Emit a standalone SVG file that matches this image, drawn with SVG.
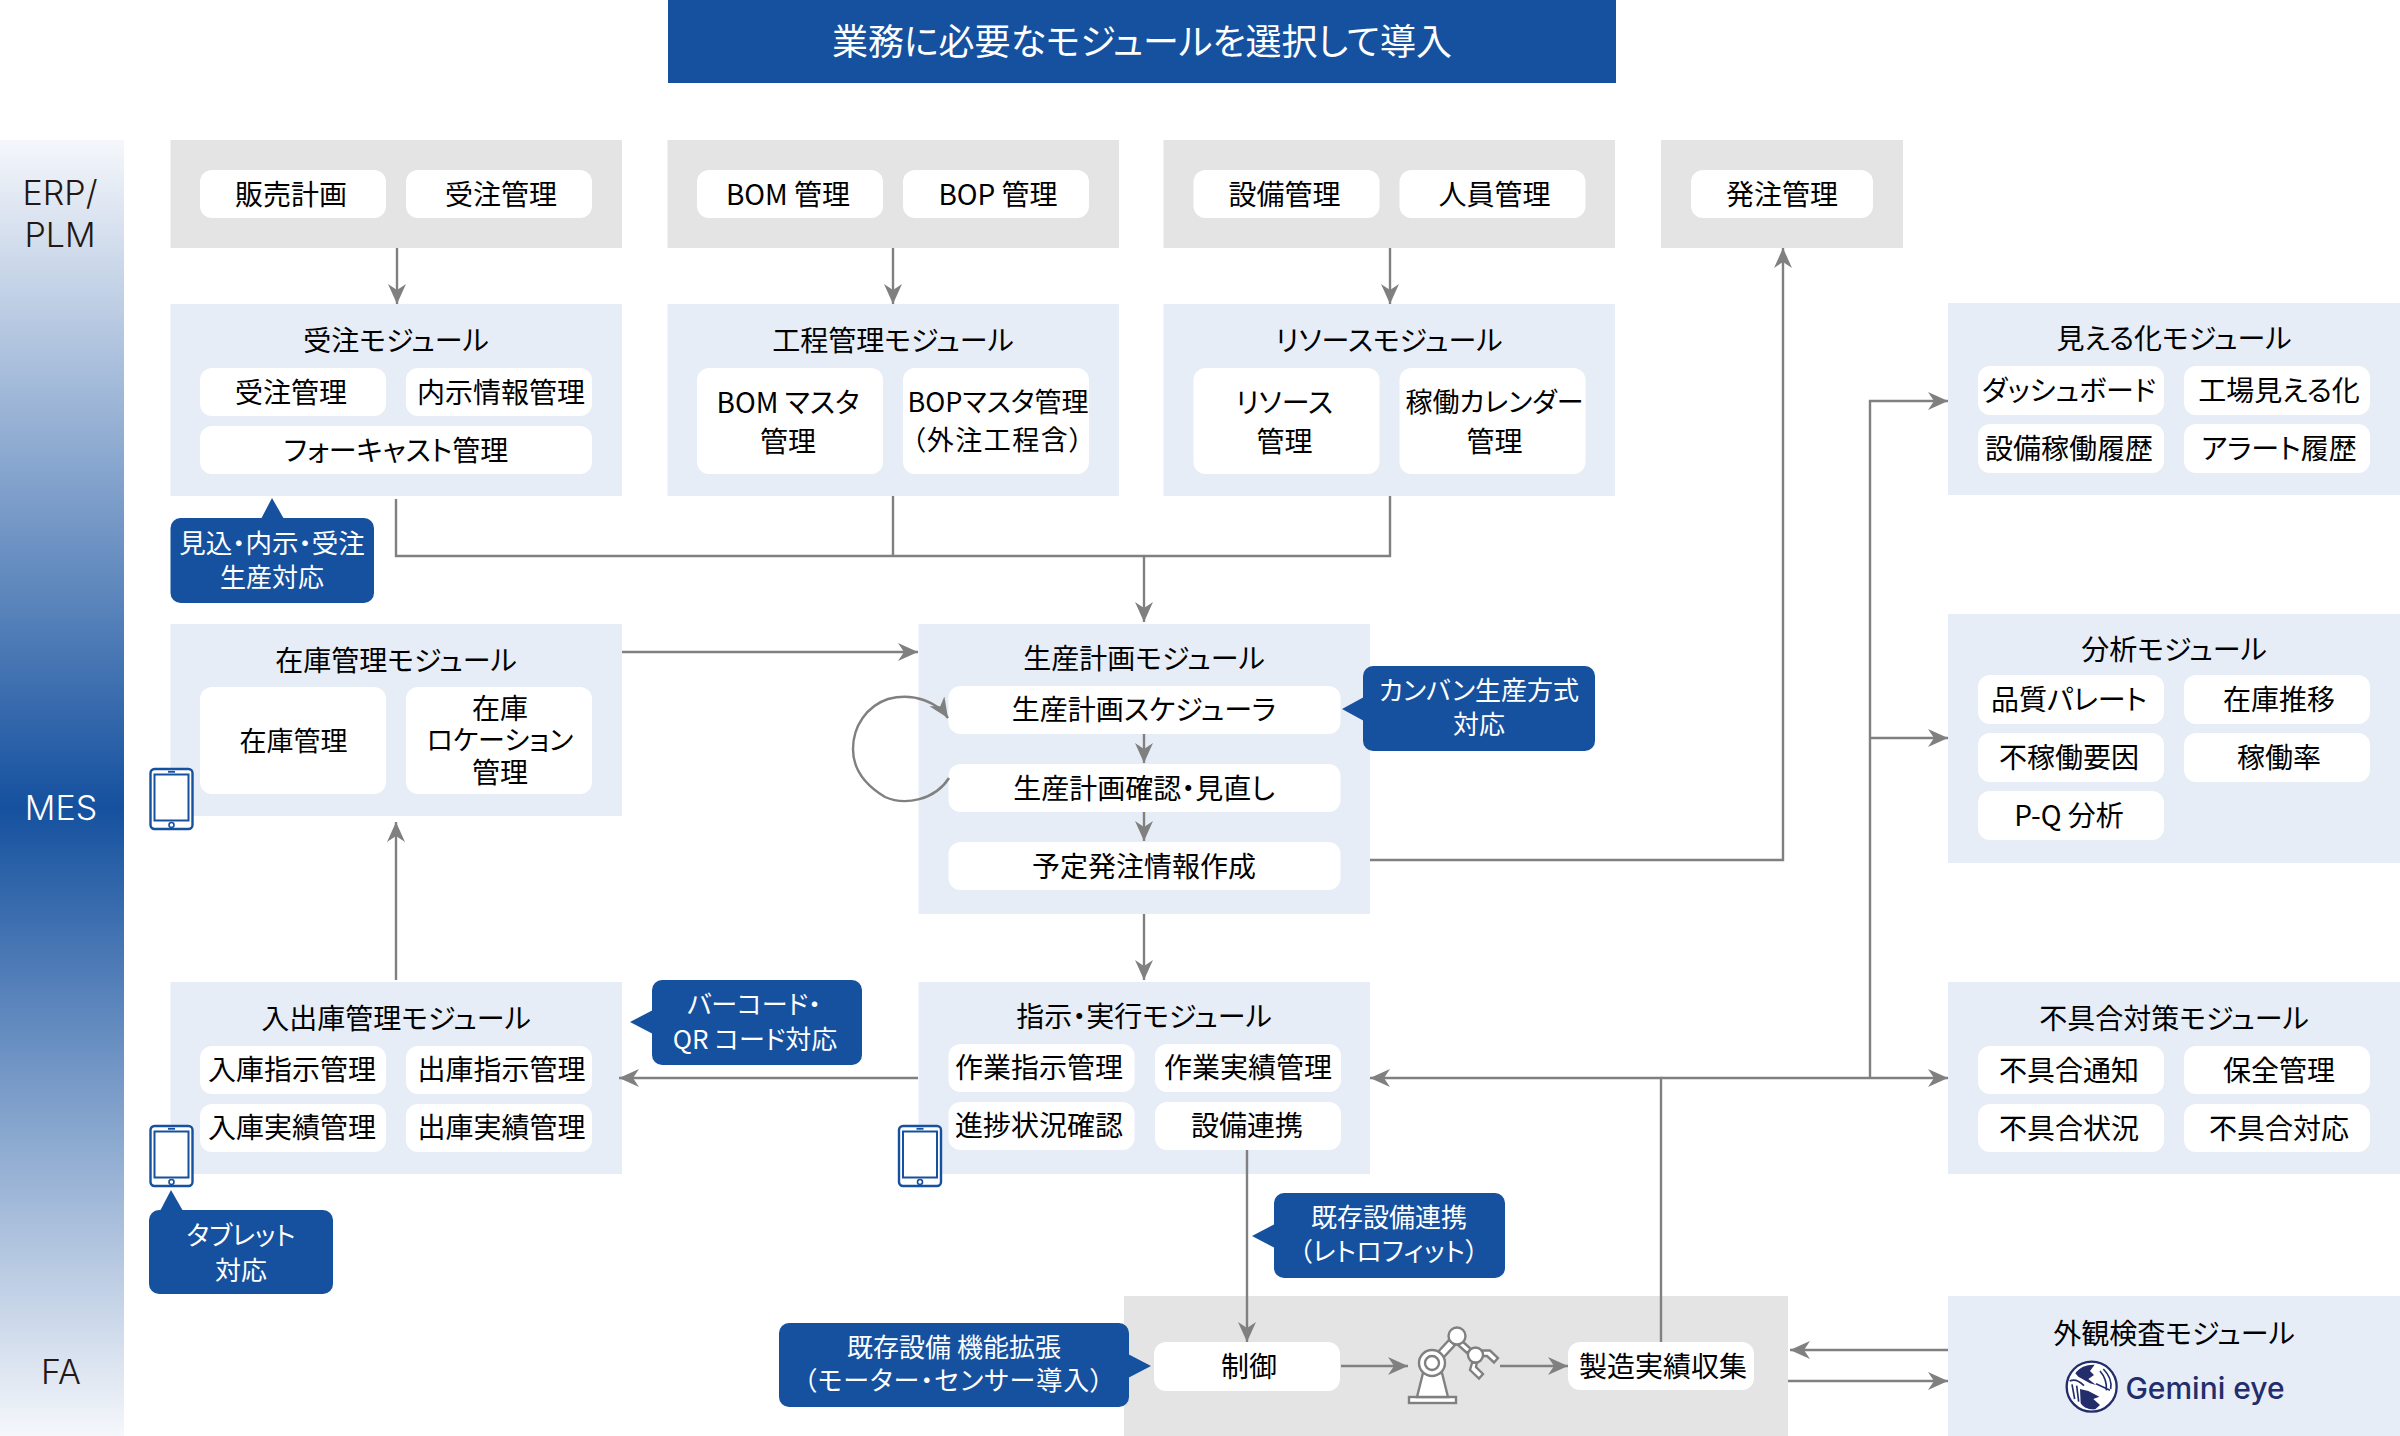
<svg xmlns="http://www.w3.org/2000/svg" width="2400" height="1436" viewBox="0 0 2400 1436">
<style>
text{font-family:"Noto Sans CJK JP","Noto Sans",sans-serif;text-anchor:middle;dominant-baseline:central;font-feature-settings:"palt";font-size:28px;fill:#000;transform:translateY(-.4px)}
.g{fill:#e4e4e4}.m{fill:#e7edf6}.p{fill:#fff}.c{fill:#15519f}
.s{font-size:27px}
.w{fill:#fff;font-size:26px}
.l{fill:#231815;font-size:34px;font-weight:300;font-family:Inter,"Noto Sans",sans-serif}
.cn{fill:none;stroke:#808080;stroke-width:2.4}
.rb{fill:#fff;stroke:#808080;stroke-width:2.4}
.lg{fill:none;stroke:#232d6b;stroke-width:5}
</style>
<defs>
<linearGradient id="band" x1="0" y1="0" x2="0" y2="1"><stop offset="0" stop-color="#f5f7fb"/><stop offset="0.515" stop-color="#15519f"/><stop offset="1" stop-color="#f5f7fb"/></linearGradient>
<marker id="a" markerUnits="userSpaceOnUse" markerWidth="22" markerHeight="20" refX="20" refY="9" orient="auto"><path d="M20 9 0 0 6 9 0 18z" fill="#808080"/></marker>
<g id="tablet"><rect x="1" y="1" width="42" height="60" rx="4" fill="#fff" stroke="#15519f" stroke-width="2.400"/><rect x="5" y="6.500" width="34" height="46" fill="none" stroke="#15519f" stroke-width="2"/><path d="M18.500 3.800H25.500" stroke="#15519f" stroke-width="1.800"/><circle cx="22" cy="57" r="2.500" fill="none" stroke="#15519f" stroke-width="1.600"/></g>
</defs>
<g id="layers"><rect x="0" y="140" width="124" height="1296" fill="url(#band)"/><text class="l" x="60" y="193">ERP/</text><text class="l" x="60" y="235">PLM</text><text class="l" x="61" y="808" style="fill:#fff">MES</text><text class="l" x="61" y="1372">FA</text></g>
<g id="title"><rect x="668" y="0" width="948" height="83" fill="#15519f"/><text x="1142" y="39" style="fill:#fff;font-size:36px">業務に必要なモジュールを選択して導入</text></g>

<g id="erp1"><rect class="g" x="170.500" y="140" width="451.500" height="108"/><rect class="p" x="200" y="170" width="186" height="48" rx="12"/><rect class="p" x="406" y="170" width="186" height="48" rx="12"/><text x="291" y="193">販売計画</text><text x="501" y="193">受注管理</text></g>
<g id="erp2"><rect class="g" x="667.500" y="140" width="451.500" height="108"/><rect class="p" x="697" y="170" width="186" height="48" rx="12"/><rect class="p" x="903" y="170" width="186" height="48" rx="12"/><text x="788" y="193">BOM 管理</text><text x="998" y="193">BOP 管理</text></g>
<g id="erp3"><rect class="g" x="1163.500" y="140" width="451.500" height="108"/><rect class="p" x="1193.500" y="170" width="186" height="48" rx="12"/><rect class="p" x="1399.500" y="170" width="186" height="48" rx="12"/><text x="1284.500" y="193">設備管理</text><text x="1494.500" y="193">人員管理</text></g>
<g id="erp4"><rect class="g" x="1661" y="140" width="242" height="108"/><rect class="p" x="1691" y="170" width="182" height="48" rx="12"/><text x="1782" y="193">発注管理</text></g>

<g id="juchu"><rect class="m" x="170.500" y="304" width="451.500" height="192"/><text x="396" y="339">受注モジュール</text><rect class="p" x="200" y="368" width="186" height="48" rx="12"/><rect class="p" x="406" y="368" width="186" height="48" rx="12"/><rect class="p" x="200" y="426" width="392" height="48" rx="12"/><text x="291" y="391">受注管理</text><text x="501" y="391">内示情報管理</text><text x="396" y="449">フォーキャスト管理</text></g>
<g id="kotei"><rect class="m" x="667.500" y="304" width="451.500" height="192"/><text x="893" y="339">工程管理モジュール</text><rect class="p" x="697" y="368" width="186" height="106" rx="12"/><rect class="p" x="903" y="368" width="186" height="106" rx="12"/><text x="788" y="401">BOM マスタ</text><text x="788" y="440">管理</text><text class="s" x="998" y="401">BOPマスタ管理</text><text class="s" x="998" y="439" style="letter-spacing:1.500px">（外注工程含）</text></g>
<g id="resource"><rect class="m" x="1163.500" y="304" width="451.500" height="192"/><text x="1389" y="339">リソースモジュール</text><rect class="p" x="1193.500" y="368" width="186" height="106" rx="12"/><rect class="p" x="1399.500" y="368" width="186" height="106" rx="12"/><text x="1284.500" y="401">リソース</text><text x="1284.500" y="440">管理</text><text class="s" x="1494.500" y="401">稼働カレンダー</text><text x="1494.500" y="440">管理</text></g>

<g id="zaiko"><rect class="m" x="170.500" y="624" width="451.500" height="192"/><text x="396" y="659">在庫管理モジュール</text><rect class="p" x="200" y="687" width="186" height="107" rx="12"/><rect class="p" x="406" y="687" width="186" height="107" rx="12"/><text class="s" x="293.500" y="740">在庫管理</text><text x="500" y="707">在庫</text><text class="s" x="500" y="739">ロケーション</text><text x="500" y="771">管理</text></g>
<g id="seisan"><rect class="m" x="918.500" y="624" width="451.500" height="290"/><text x="1144" y="657">生産計画モジュール</text><rect class="p" x="948.500" y="686" width="392" height="48" rx="12"/><rect class="p" x="948.500" y="764" width="392" height="48" rx="12"/><rect class="p" x="948.500" y="842" width="392" height="48" rx="12"/><text x="1144" y="708">生産計画スケジューラ</text><text x="1144" y="787">生産計画確認・見直し</text><text x="1144" y="865">予定発注情報作成</text></g>
<g id="nyushuko"><rect class="m" x="170.500" y="982" width="451.500" height="192"/><text x="396" y="1017">入出庫管理モジュール</text><rect class="p" x="200" y="1046" width="186" height="48" rx="12"/><rect class="p" x="406" y="1046" width="186" height="48" rx="12"/><rect class="p" x="200" y="1104" width="186" height="48" rx="12"/><rect class="p" x="406" y="1104" width="186" height="48" rx="12"/><text x="292" y="1068">入庫指示管理</text><text x="501.500" y="1068">出庫指示管理</text><text x="292" y="1126">入庫実績管理</text><text x="501.500" y="1126">出庫実績管理</text></g>
<g id="shiji"><rect class="m" x="918.500" y="982" width="451.500" height="192"/><text x="1144" y="1015">指示・実行モジュール</text><rect class="p" x="948.500" y="1044" width="186" height="48" rx="12"/><rect class="p" x="1155" y="1044" width="186" height="48" rx="12"/><rect class="p" x="948.500" y="1102" width="186" height="48" rx="12"/><rect class="p" x="1155" y="1102" width="186" height="48" rx="12"/><text x="1039" y="1066">作業指示管理</text><text x="1248" y="1066">作業実績管理</text><text x="1039" y="1124">進捗状況確認</text><text x="1247" y="1124">設備連携</text></g>

<g id="mieruka"><rect class="m" x="1948" y="303" width="452" height="192"/><text x="2174" y="337">見える化モジュール</text><rect class="p" x="1978" y="366" width="186" height="49" rx="12"/><rect class="p" x="2184" y="366" width="186" height="49" rx="12"/><rect class="p" x="1978" y="424" width="186" height="49" rx="12"/><rect class="p" x="2184" y="424" width="186" height="49" rx="12"/><text x="2069" y="389">ダッシュボード</text><text x="2279" y="389">工場見える化</text><text x="2069" y="447">設備稼働履歴</text><text x="2279" y="447">アラート履歴</text></g>
<g id="bunseki"><rect class="m" x="1948" y="614" width="452" height="249"/><text x="2174" y="648">分析モジュール</text><rect class="p" x="1978" y="675" width="186" height="49" rx="12"/><rect class="p" x="2184" y="675" width="186" height="49" rx="12"/><rect class="p" x="1978" y="733" width="186" height="49" rx="12"/><rect class="p" x="2184" y="733" width="186" height="49" rx="12"/><rect class="p" x="1978" y="791" width="186" height="49" rx="12"/><text x="2069" y="698">品質パレート</text><text x="2279" y="698">在庫推移</text><text x="2069" y="756">不稼働要因</text><text x="2279" y="756">稼働率</text><text x="2069" y="814">P-Q 分析</text></g>
<g id="fuguai"><rect class="m" x="1948" y="982" width="452" height="192"/><text x="2174" y="1017">不具合対策モジュール</text><rect class="p" x="1978" y="1046" width="186" height="48" rx="12"/><rect class="p" x="2184" y="1046" width="186" height="48" rx="12"/><rect class="p" x="1978" y="1104" width="186" height="48" rx="12"/><rect class="p" x="2184" y="1104" width="186" height="48" rx="12"/><text x="2069" y="1069">不具合通知</text><text x="2279" y="1069">保全管理</text><text x="2069" y="1127">不具合状況</text><text x="2279" y="1127">不具合対応</text></g>
<g id="gaikan"><rect class="m" x="1948" y="1296" width="452" height="140"/><text x="2174" y="1332">外観検査モジュール</text>
<g transform="translate(2060 1355) scale(.3333)"><circle cx="95" cy="95" r="75" fill="#fff" stroke="#232d6b" stroke-width="7"/><path d="M46 55C60 36 80 28 104 29L90 48 102 60 85 72 108 90 90 85 55 65z" fill="#232d6b"/><path d="M60 102 85 108 118 125 100 132 120 150 106 163C85 165 70 157 62 145z" fill="#232d6b"/><path class="lg" d="M29 78C45 70 60 80 72 92M36 88 44 132M50 92 56 140M130 42C146 58 156 80 152 102M120 48C134 64 141 82 139 106M108 86 150 106"/></g>
<text x="2205" y="1388" style="fill:#232d6b;font-size:30px;font-family:Inter,sans-serif;font-weight:500">Gemini eye</text></g>

<g id="fa"><rect class="g" x="1124" y="1296" width="664" height="140"/><rect class="p" x="1154" y="1342" width="186" height="49" rx="12"/><rect class="p" x="1568" y="1342" width="186" height="48" rx="12"/><text x="1249" y="1365">制御</text><text x="1663" y="1365">製造実績収集</text></g>
<g id="robot"><rect class="rb" x="1409" y="1397" width="47" height="6"/><path class="rb" d="M1417 1397 1423 1373H1442L1448 1397z"/><path class="rb" d="M1437 1353 1449 1340 1455 1345 1443 1358z"/><path class="rb" d="M1462 1341 1471 1349 1467 1353 1458 1345z"/><circle class="rb" cx="1432" cy="1363" r="13"/><circle class="rb" cx="1432" cy="1363" r="7"/><circle class="rb" cx="1457" cy="1336" r="8.500"/><path class="rb" d="M1481.500 1350.500H1490L1498 1358 1494 1362.500 1487 1356H1483z"/><path class="rb" d="M1472 1363 1470 1370 1479 1378.500 1483 1374 1476 1367 1477 1362z"/><circle class="rb" cx="1475.500" cy="1355" r="7.500"/></g>

<g id="connectors">
<path class="cn" marker-end="url(#a)" d="M397 248V304"/><path class="cn" marker-end="url(#a)" d="M893 248V304"/><path class="cn" marker-end="url(#a)" d="M1390 248V304"/>
<path class="cn" d="M396 499V556H1390V496M893 496V556"/><path class="cn" marker-end="url(#a)" d="M1144 556V622"/>
<path class="cn" marker-end="url(#a)" d="M622 652H918"/>
<path class="cn" marker-end="url(#a)" d="M949 778C935 800 905 806 885 797C865 785 853 770 853 749C853 726 867 706 888 699C915 692 938 703 948 718"/>
<path class="cn" marker-end="url(#a)" d="M1144 734V763"/><path class="cn" marker-end="url(#a)" d="M1144 812V841"/>
<path class="cn" marker-end="url(#a)" d="M1370 860H1783V248"/>
<path class="cn" marker-end="url(#a)" d="M1144 914V980"/>
<path class="cn" marker-end="url(#a)" d="M396 980V822"/>
<path class="cn" marker-end="url(#a)" d="M918 1078H619"/>
<path class="cn" marker-end="url(#a)" d="M1247 1150V1342"/>
<path class="cn" marker-end="url(#a)" d="M1341 1366H1408"/><path class="cn" marker-end="url(#a)" d="M1500 1366H1568"/>
<path class="cn" marker-end="url(#a)" d="M1661 1342V1078H1370"/><path class="cn" marker-end="url(#a)" d="M1661 1078H1948"/>
<path class="cn" marker-end="url(#a)" d="M1870 1078V401H1948"/><path class="cn" marker-end="url(#a)" d="M1870 738H1948"/>
<path class="cn" marker-end="url(#a)" d="M1948 1350H1790"/><path class="cn" marker-end="url(#a)" d="M1788 1381H1948"/>
</g>

<g id="callouts">
<g id="c1"><rect class="c" x="170.500" y="518" width="203.500" height="85" rx="10"/><path class="c" d="M272 498 261 519H284z"/><text class="w" x="272" y="542" style="font-size:26.500px">見込・内示・受注</text><text class="w" x="272" y="576">生産対応</text></g>
<g id="c2"><rect class="c" x="1363" y="666" width="232" height="85" rx="10"/><path class="c" d="M1342 709 1364 697V721z"/><text class="w" x="1479" y="689">カンバン生産方式</text><text class="w" x="1479" y="723">対応</text></g>
<g id="c3"><rect class="c" x="652" y="980" width="210" height="85" rx="10"/><path class="c" d="M630 1022 653 1010V1034z"/><text class="w" x="754" y="1003">バーコード・</text><text class="w" x="755" y="1038">QR コード対応</text></g>
<g id="c4"><rect class="c" x="149" y="1210" width="184" height="84" rx="10"/><path class="c" d="M171 1190 160 1211H183z"/><text class="w" x="241" y="1234">タブレット</text><text class="w" x="241" y="1269">対応</text></g>
<g id="c5"><rect class="c" x="1274" y="1193" width="231" height="85" rx="10"/><path class="c" d="M1252 1236 1275 1224V1248z"/><text class="w" x="1389" y="1216">既存設備連携</text><text class="w" x="1389" y="1250" style="letter-spacing:.4px">（レトロフィット）</text></g>
<g id="c6"><rect class="c" x="779" y="1323" width="350" height="84" rx="10"/><path class="c" d="M1151 1366 1128 1354V1378z"/><text class="w" x="954" y="1346">既存設備 機能拡張</text><text class="w" x="954" y="1379" style="letter-spacing:1px">（モーター・センサー導入）</text></g>
</g>
<use href="#tablet" x="149.500" y="768"/><use href="#tablet" x="149.500" y="1125"/><use href="#tablet" x="898" y="1125"/>
</svg>
